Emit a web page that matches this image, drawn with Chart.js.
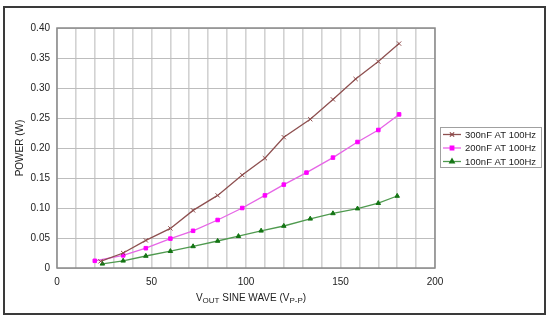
<!DOCTYPE html>
<html>
<head>
<meta charset="utf-8">
<script src="https://cdn.jsdelivr.net/npm/chart.js@4/dist/chart.umd.min.js"></script>
<style>
  html, body { margin: 0; padding: 0; background: #fff; }
  #wrap { position: relative; width: 550px; height: 321px; }
</style>
</head>
<body>
<div id="wrap"><canvas id="powerChart" width="550" height="321"></canvas></div>
<script>
// Power vs output voltage, three load capacitances at 100Hz

const seriesNames = ['300nF AT 100Hz', '200nF AT 100Hz', '100nF AT 100Hz'];

const vout300 = [23, 35, 47, 60, 72, 85, 98, 110, 120, 134, 146, 158, 170, 181];
const power300 = [0.011, 0.025, 0.046, 0.066, 0.096, 0.121, 0.155, 0.183, 0.218, 0.248, 0.281, 0.315, 0.344, 0.374];

const vout200 = [20, 35, 47, 60, 72, 85, 98, 110, 120, 132, 146, 159, 170, 181];
const power200 = [0.012, 0.021, 0.033, 0.049, 0.062, 0.080, 0.100, 0.121, 0.139, 0.159, 0.184, 0.210, 0.230, 0.256];

const vout100 = [24, 35, 47, 60, 72, 85, 96, 108, 120, 134, 146, 159, 170, 180];
const power100 = [0.007, 0.012, 0.020, 0.028, 0.036, 0.045, 0.053, 0.062, 0.070, 0.082, 0.091, 0.099, 0.108, 0.120];

const xTickLabels = [0, 50, 100, 150, 200];

const FONT = 'Arial, "Liberation Sans", sans-serif';

function toPoints(xs, ys) {
    return xs.map((x, i) => ({ x: x, y: ys[i] }));
}

const styles = [
    { line: '#8e5050', point: '#8e4a4a', pointStyle: 'crossRot', radius: 3 },
    { line: '#e665e6', point: '#ff00ff', pointStyle: 'rect', radius: 2.5 },
    { line: '#4f9a4f', point: '#147514', pointStyle: 'triangle', radius: 2.6 }
];

const allX = [vout300, vout200, vout100];
const allY = [power300, power200, power100];

const datasets = seriesNames.map((name, i) => ({
    label: name,
    data: toPoints(allX[i], allY[i]),
    showLine: true,
    borderColor: styles[i].line,
    borderWidth: 1.3,
    pointStyle: styles[i].pointStyle,
    pointRadius: styles[i].radius,
    pointBackgroundColor: styles[i].point,
    pointBorderColor: styles[i].point,
    pointBorderWidth: 1,
    tension: 0
}));

/**
 * Frame, plot outline, axis titles and legend box
 */
const decorPlugin = {
    id: 'decor',
    beforeDraw(chart) {
        const ctx = chart.ctx;
        ctx.save();
        ctx.fillStyle = '#fff';
        ctx.fillRect(0, 0, chart.width, chart.height);
        ctx.restore();
    },
    afterDraw(chart) {
        const ctx = chart.ctx;
        const area = chart.chartArea;
        ctx.save();

        // plot outline
        ctx.strokeStyle = '#8a8a8a';
        ctx.lineWidth = 1.5;
        ctx.strokeRect(area.left, area.top, area.right - area.left, area.bottom - area.top);

        // outer frame
        ctx.strokeStyle = '#3a3a3a';
        ctx.lineWidth = 2;
        ctx.strokeRect(4, 7, 541, 307);

        // y title
        ctx.fillStyle = '#222';
        ctx.font = '10px ' + FONT;
        ctx.textAlign = 'center';
        ctx.textBaseline = 'middle';
        ctx.translate(20, (area.top + area.bottom) / 2);
        ctx.rotate(-Math.PI / 2);
        ctx.fillText('POWER (W)', 0, 0);
        ctx.setTransform(1, 0, 0, 1, 0, 0);

        // x title with subscripts
        const parts = [
            ['V', 10, 0], ['OUT', 8, 1.5], [' SINE WAVE (V', 10, 0], ['P-P', 8, 1.5], [')', 10, 0]
        ];
        let total = 0;
        parts.forEach(p => {
            ctx.font = p[1] + 'px ' + FONT;
            total += ctx.measureText(p[0]).width;
        });
        let x = 251 - total / 2;
        ctx.textAlign = 'left';
        ctx.textBaseline = 'alphabetic';
        parts.forEach(p => {
            ctx.font = p[1] + 'px ' + FONT;
            ctx.fillText(p[0], x, 301 + p[2]);
            x += ctx.measureText(p[0]).width;
        });

        // legend
        ctx.strokeStyle = '#a0a0a0';
        ctx.lineWidth = 1;
        ctx.strokeRect(440.5, 127.5, 101, 40);
        ctx.font = '9.5px ' + FONT;
        ctx.textBaseline = 'middle';
        chart.data.datasets.forEach((ds, i) => {
            const y = 134.5 + i * 13.5;
            ctx.strokeStyle = ds.borderColor;
            ctx.lineWidth = 1.3;
            ctx.beginPath();
            ctx.moveTo(443, y);
            ctx.lineTo(461, y);
            ctx.stroke();
            ctx.fillStyle = ds.pointBackgroundColor;
            ctx.strokeStyle = ds.pointBorderColor;
            Chart.helpers.drawPoint(ctx, {
                pointStyle: ds.pointStyle,
                radius: ds.pointRadius,
                rotation: 0,
                borderWidth: 1
            }, 452, y);
            ctx.fillStyle = '#222';
            ctx.fillText(ds.label, 465, y + 0.5);
        });

        ctx.restore();
    }
};

function initializePowerChart() {
    const canvas = document.getElementById('powerChart');
    if (!canvas) return;

    new Chart(canvas.getContext('2d'), {
        type: 'scatter',
        data: { datasets: datasets },
        options: {
            responsive: false,
            animation: false,
            devicePixelRatio: 1,
            layout: { padding: { left: 0, top: 28, right: 115, bottom: 0 } },
            plugins: {
                legend: { display: false },
                tooltip: { enabled: false }
            },
            scales: {
                x: {
                    type: 'linear',
                    min: 0,
                    max: 200,
                    afterFit(scale) { scale.height = 53; },
                    ticks: {
                        stepSize: 10,
                        autoSkip: false,
                        maxRotation: 0,
                        padding: 8,
                        color: '#222',
                        font: { family: FONT, size: 10 },
                        callback: v => (xTickLabels.includes(v) ? String(v) : '')
                    },
                    grid: { color: '#d2d2d2', lineWidth: 1.6, drawTicks: false },
                    border: { display: false }
                },
                y: {
                    min: 0,
                    max: 0.4,
                    afterFit(scale) { scale.width = 57; },
                    ticks: {
                        stepSize: 0.05,
                        padding: 7,
                        color: '#222',
                        font: { family: FONT, size: 10 },
                        callback: v => (v === 0 ? '0' : v.toFixed(2))
                    },
                    grid: { color: '#bdbdbd', lineWidth: 1, drawTicks: false },
                    border: { display: false }
                }
            }
        },
        plugins: [decorPlugin]
    });
}

document.addEventListener('DOMContentLoaded', function() {
    initializePowerChart();
});
</script>
</body>
</html>
